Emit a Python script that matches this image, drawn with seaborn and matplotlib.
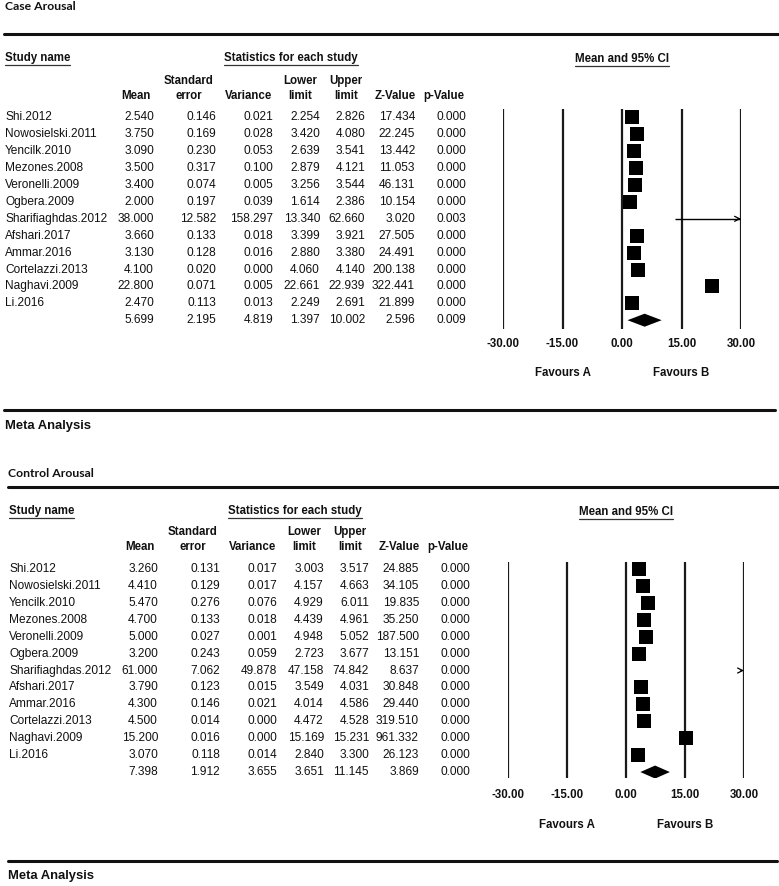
import numpy as np
import pandas as pd
import matplotlib
matplotlib.use("Agg")
import matplotlib.pyplot as plt
import seaborn as sns
from matplotlib.lines import Line2D
from matplotlib.patches import Polygon
import matplotlib.transforms as mtransforms

# ---------------- data ----------------
studies = ["Shi.2012", "Nowosielski.2011", "Yencilk.2010", "Mezones.2008",
           "Veronelli.2009", "Ogbera.2009", "Sharifiaghdas.2012", "Afshari.2017",
           "Ammar.2016", "Cortelazzi.2013", "Naghavi.2009", "Li.2016"]

case_mean = [2.540, 3.750, 3.090, 3.500, 3.400, 2.000, 38.000, 3.660, 3.130, 4.100, 22.800, 2.470]
case_se = [0.146, 0.169, 0.230, 0.317, 0.074, 0.197, 12.582, 0.133, 0.128, 0.020, 0.071, 0.113]
case_var = [0.021, 0.028, 0.053, 0.100, 0.005, 0.039, 158.297, 0.018, 0.016, 0.000, 0.005, 0.013]
case_lower = [2.254, 3.420, 2.639, 2.879, 3.256, 1.614, 13.340, 3.399, 2.880, 4.060, 22.661, 2.249]
case_upper = [2.826, 4.080, 3.541, 4.121, 3.544, 2.386, 62.660, 3.921, 3.380, 4.140, 22.939, 2.691]
case_z = [17.434, 22.245, 13.442, 11.053, 46.131, 10.154, 3.020, 27.505, 24.491, 200.138, 322.441, 21.899]
case_p = [0.000, 0.000, 0.000, 0.000, 0.000, 0.000, 0.003, 0.000, 0.000, 0.000, 0.000, 0.000]
case_summary = [5.699, 2.195, 4.819, 1.397, 10.002, 2.596, 0.009]

ctrl_mean = [3.260, 4.410, 5.470, 4.700, 5.000, 3.200, 61.000, 3.790, 4.300, 4.500, 15.200, 3.070]
ctrl_se = [0.131, 0.129, 0.276, 0.133, 0.027, 0.243, 7.062, 0.123, 0.146, 0.014, 0.016, 0.118]
ctrl_var = [0.017, 0.017, 0.076, 0.018, 0.001, 0.059, 49.878, 0.015, 0.021, 0.000, 0.000, 0.014]
ctrl_lower = [3.003, 4.157, 4.929, 4.439, 4.948, 2.723, 47.158, 3.549, 4.014, 4.472, 15.169, 2.840]
ctrl_upper = [3.517, 4.663, 6.011, 4.961, 5.052, 3.677, 74.842, 4.031, 4.586, 4.528, 15.231, 3.300]
ctrl_z = [24.885, 34.105, 19.835, 35.250, 187.500, 13.151, 8.637, 30.848, 29.440, 319.510, 961.332, 26.123]
ctrl_p = [0.000, 0.000, 0.000, 0.000, 0.000, 0.000, 0.000, 0.000, 0.000, 0.000, 0.000, 0.000]
ctrl_summary = [7.398, 1.912, 3.655, 3.651, 11.145, 3.869, 0.000]

axis_ticks = [-30, -15, 0, 15, 30]
tick_labels = ["-30.00", "-15.00", "0.00", "15.00", "30.00"]

# ---------------- figure ----------------
sns.set_theme(style="white")
plt.rcParams["font.family"] = ["Liberation Sans", "DejaVu Sans"]

W, H = 779, 886
fig = plt.figure(figsize=(W / 100, H / 100), dpi=100)
fig.patch.set_facecolor("white")

INK = "#111111"
FS = 8.6      # regular table text
FB = 8.3      # bold headers


def fx(x):
    return x / W


def fy(y):
    return 1 - y / H


underlined = []


def txt(x, y, s, ha="left", bold=False, size=None, family=None, underline=False):
    kw = {}
    if family is not None:
        kw["family"] = family
    if size is None:
        size = FB if bold else FS
    t = fig.text(fx(x), fy(y), s, ha=ha, va="center", fontsize=size,
                 fontweight="bold" if bold else "normal", color=INK, **kw)
    if underline:
        underlined.append(t)
    return t


def hline(y, x0, x1, lw=2.2):
    fig.add_artist(Line2D([fx(x0), fx(x1)], [fy(y), fy(y)], color=INK, lw=lw,
                          transform=fig.transFigure))


def table(dx, y_sec, y_h1, y_h2, row0, step, cols, summary):
    txt(5 + dx, y_sec, "Study name", bold=True, underline=True)
    txt(291 + dx, y_sec, "Statistics for each study", ha="center", bold=True, underline=True)
    h1 = {"Standard": 188, "Lower": 300, "Upper": 346}
    h2 = {"Mean": 136, "error": 189, "Variance": 249, "limit1": 300, "limit2": 346,
          "Z-Value": 395, "p-Value": 444}
    for k, x in h1.items():
        txt(x + dx, y_h1, k, ha="center", bold=True)
    for k, x in h2.items():
        txt(x + dx, y_h2, k.rstrip("12"), ha="center", bold=True)
    rights = [154, 216, 273, 320, 365, 415, 466]
    for i, name in enumerate(studies):
        y = row0 + i * step
        txt(5 + dx, y, name)
        for j, col in enumerate(cols):
            txt(rights[j] + dx, y, f"{col[i]:.3f}", ha="right")
    y = row0 + 12 * step
    for j, v in enumerate(summary):
        txt(rights[j] + dx, y, f"{v:.3f}", ha="right")


def forest(left, right, top, bottom, row0, step, means, lows, highs, summary,
           tick_y, fav_y, title_y):
    ax = fig.add_axes([fx(left), fy(bottom), (right - left) / W, (bottom - top) / H])
    df = pd.DataFrame({"row": np.arange(len(means)), "mean": means,
                       "lo": lows, "hi": highs})
    for t in axis_ticks:
        ax.axvline(t, color="#1a1a1a", lw=1.6, zorder=1)
    seg = df[(df["hi"] > -30) & (df["lo"] < 30)]
    ax.hlines(seg["row"], seg["lo"].clip(-30, 30), seg["hi"].clip(-30, 30),
              color="black", lw=1.0, zorder=2)
    for r in df[df["hi"] > 30].itertuples():
        ax.annotate("", xy=(30, r.row), xytext=(29.2, r.row),
                    arrowprops=dict(arrowstyle="->", lw=0.9, color="black",
                                    shrinkA=0, shrinkB=0, mutation_scale=9),
                    annotation_clip=False)
    inside = df[(df["mean"] >= -30) & (df["mean"] <= 30)]
    sns.scatterplot(data=inside, x="mean", y="row", marker="s", s=100,
                    color="black", edgecolor="black", linewidth=0,
                    ax=ax, legend=False, zorder=3, clip_on=False)
    m, lo, hi = summary[0], summary[3], summary[4]
    n = len(means)
    h = 6.5 / step
    ax.add_patch(Polygon([[lo, n], [m, n - h], [hi, n], [m, n + h]], closed=True,
                         facecolor="black", edgecolor="none", zorder=3))
    ax.set_xlim(-30, 30)
    ax.set_ylim((bottom - row0) / step, (top - row0) / step)
    ax.set_xticks(axis_ticks)
    ax.set_xticklabels(tick_labels, fontweight="bold", fontsize=FB, color=INK)
    ax.tick_params(axis="x", length=0, pad=(tick_y - bottom - 4) * 0.72)
    ax.set_yticks([])
    ax.set_xlabel("")
    ax.set_ylabel("")
    for s in ax.spines.values():
        s.set_visible(False)
    ax.patch.set_alpha(0)
    tr = mtransforms.blended_transform_factory(ax.transData, ax.transAxes)
    ya = (bottom - fav_y) / (bottom - top)
    ax.text(-15, ya, "Favours A", transform=tr, ha="center", va="center",
            fontsize=FB, fontweight="bold", color=INK)
    ax.text(15, ya, "Favours B", transform=tr, ha="center", va="center",
            fontsize=FB, fontweight="bold", color=INK)
    x0 = fx(left + (right - left) / 2)
    t = fig.text(x0, fy(title_y), "Mean and 95% CI", ha="center", va="center",
                 fontsize=FB, fontweight="bold", color=INK)
    underlined.append(t)
    return ax


# ---------------- Case panel ----------------
txt(5, 7, "Case Arousal", bold=True, size=8.8, family=["Lato", "DejaVu Sans"])
hline(34, 4, 779)
table(0, 58, 81, 96, 117.4, 16.9,
      [case_mean, case_se, case_var, case_lower, case_upper, case_z, case_p], case_summary)
forest(503, 741, 109, 329, 117.4, 16.9, case_mean, case_lower, case_upper,
       case_summary, 342, 373, 59)
hline(410, 4, 775)
txt(5, 426, "Meta Analysis", bold=True, size=9.4)

# ---------------- Control panel ----------------
txt(8, 473, "Control Arousal", bold=True, size=8.8, family=["Lato", "DejaVu Sans"])
hline(487, 8, 779)
table(4, 511, 532, 547, 569, 16.92,
      [ctrl_mean, ctrl_se, ctrl_var, ctrl_lower, ctrl_upper, ctrl_z, ctrl_p], ctrl_summary)
forest(508, 744, 562, 778, 569, 16.92, ctrl_mean, ctrl_lower, ctrl_upper,
       ctrl_summary, 793, 825, 512)
hline(861, 8, 777)
txt(8, 876, "Meta Analysis", bold=True, size=9.4)

# ---------------- underlines ----------------
fig.canvas.draw()
renderer = fig.canvas.get_renderer()
for t in underlined:
    bb = t.get_window_extent(renderer)
    y = (bb.y0 - 0.5) / H
    fig.add_artist(Line2D([bb.x0 / W, bb.x1 / W], [y, y], color="#333333", lw=0.9,
                          transform=fig.transFigure))

fig.savefig("out.png", dpi=100)
